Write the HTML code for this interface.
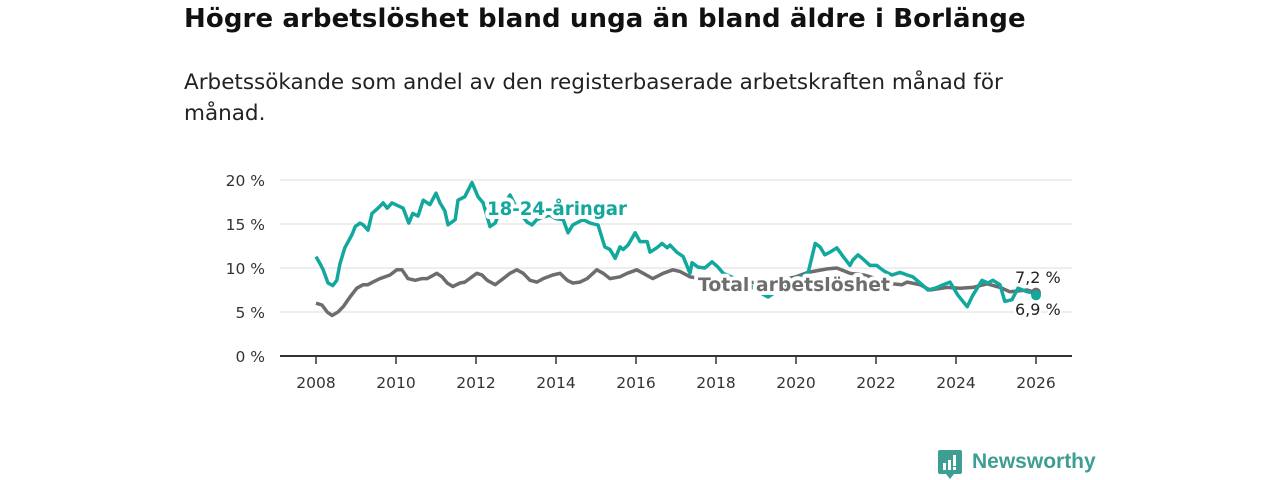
<!DOCTYPE html>
<html><head><meta charset="utf-8"><style>
body{margin:0;background:#fff;font-family:"DejaVu Sans","Liberation Sans",sans-serif;}
#wrap{position:relative;width:1280px;height:480px;overflow:hidden;}
h1{position:absolute;left:184px;top:4px;margin:0;font-size:26px;font-weight:bold;color:#111;white-space:nowrap;letter-spacing:0.1px;}
.sub{position:absolute;left:184px;top:67px;width:860px;margin:0;font-size:21.5px;line-height:31px;color:#222;}
</style></head><body>
<div id="wrap">
<h1>Högre arbetslöshet bland unga än bland äldre i Borlänge</h1>
<p class="sub">Arbetssökande som andel av den registerbaserade arbetskraften månad för månad.</p>
<svg id="chart" width="1280" height="480" style="position:absolute;left:0;top:0"></svg>
<div style="position:absolute;left:938px;top:450px;height:30px;">
<svg width="26" height="30" style="position:absolute;left:0;top:0"><path d="M0 2 Q0 0 2 0 H22 Q24 0 24 2 V22 Q24 24 22 24 H16 L12 29 L8 24 H2 Q0 24 0 22 Z" fill="#3f9e93"/><rect x="5" y="13" width="3" height="7" fill="#fff"/><rect x="10" y="10" width="3" height="10" fill="#fff"/><rect x="15" y="5" width="3" height="11" fill="#fff"/><rect x="15" y="17" width="3" height="3" fill="#fff"/></svg>
<span style="position:absolute;left:34px;top:0px;font-size:21px;font-weight:bold;color:#3f9e93;white-space:nowrap;font-family:'Liberation Sans',sans-serif;">Newsworthy</span>
</div>
</div>
<script>
const youthYears=[2008.0,2008.1,2008.18,2008.3,2008.42,2008.52,2008.6,2008.72,2008.9,2008.98,2009.1,2009.18,2009.3,2009.4,2009.55,2009.68,2009.78,2009.9,2010.18,2010.32,2010.42,2010.55,2010.68,2010.85,2011.0,2011.1,2011.22,2011.3,2011.48,2011.55,2011.72,2011.9,2012.05,2012.18,2012.35,2012.48,2012.6,2012.85,2013.05,2013.28,2013.4,2013.52,2013.68,2013.85,2014.0,2014.18,2014.3,2014.42,2014.68,2014.85,2015.05,2015.22,2015.35,2015.48,2015.6,2015.68,2015.8,2015.98,2016.1,2016.28,2016.35,2016.52,2016.65,2016.78,2016.85,2017.02,2017.18,2017.35,2017.4,2017.55,2017.72,2017.9,2018.05,2018.18,2018.48,2018.85,2019.1,2019.3,2019.6,2019.98,2020.3,2020.48,2020.6,2020.72,2020.85,2021.02,2021.18,2021.35,2021.42,2021.55,2021.68,2021.85,2022.02,2022.1,2022.22,2022.4,2022.6,2022.78,2022.92,2023.1,2023.3,2023.48,2023.68,2023.85,2024.05,2024.28,2024.42,2024.65,2024.8,2024.92,2025.1,2025.22,2025.4,2025.55,2025.78,2025.92,2026.0];
const youthValues=[11.3,10.5,9.8,8.3,8.0,8.6,10.5,12.3,13.8,14.7,15.1,14.9,14.3,16.2,16.8,17.4,16.8,17.4,16.8,15.1,16.2,15.9,17.7,17.2,18.5,17.4,16.5,14.9,15.5,17.7,18.1,19.7,18.1,17.4,14.7,15.1,16.5,18.3,16.5,15.2,14.9,15.5,15.8,16.0,15.6,15.5,14.0,14.9,15.5,15.1,14.9,12.4,12.1,11.1,12.4,12.1,12.6,14.0,13.0,13.0,11.8,12.3,12.8,12.3,12.6,11.8,11.3,9.4,10.6,10.1,10.0,10.7,10.1,9.4,8.8,8.0,7.2,6.7,7.6,8.6,9.4,12.8,12.4,11.5,11.8,12.3,11.3,10.3,10.9,11.5,11.0,10.3,10.3,10.0,9.6,9.2,9.5,9.2,9.0,8.3,7.5,7.7,8.1,8.4,6.9,5.6,6.9,8.6,8.3,8.6,8.1,6.2,6.4,7.7,7.3,7.2,6.9];
const totalYears=[2008.0,2008.15,2008.28,2008.4,2008.55,2008.68,2008.85,2009.02,2009.18,2009.3,2009.42,2009.6,2009.85,2010.02,2010.15,2010.3,2010.48,2010.65,2010.78,2011.02,2011.15,2011.28,2011.42,2011.6,2011.72,2011.9,2012.02,2012.15,2012.28,2012.48,2012.68,2012.85,2013.02,2013.18,2013.35,2013.52,2013.68,2013.92,2014.1,2014.28,2014.42,2014.6,2014.78,2015.02,2015.18,2015.35,2015.6,2015.78,2016.02,2016.18,2016.42,2016.68,2016.92,2017.1,2017.35,2017.6,2018.0,2018.5,2019.0,2019.5,2020.0,2020.3,2020.78,2021.02,2021.35,2021.7,2022.0,2022.4,2022.65,2022.78,2023.1,2023.35,2023.78,2024.1,2024.42,2024.78,2025.1,2025.35,2025.78,2026.0];
const totalValues=[6.0,5.8,5.0,4.6,5.0,5.6,6.7,7.7,8.1,8.1,8.4,8.8,9.2,9.8,9.8,8.8,8.6,8.8,8.8,9.4,9.0,8.3,7.9,8.3,8.4,9.0,9.4,9.2,8.6,8.1,8.8,9.4,9.8,9.4,8.6,8.4,8.8,9.2,9.4,8.6,8.3,8.4,8.8,9.8,9.4,8.8,9.0,9.4,9.8,9.4,8.8,9.4,9.8,9.6,9.0,8.8,8.8,8.6,8.3,8.5,9.0,9.5,9.9,10.0,9.4,9.2,8.8,8.2,8.1,8.4,8.1,7.5,7.8,7.7,7.8,8.2,7.8,7.3,7.5,7.2];
const yTicks=[0,5,10,15,20];
const yTickLabels=["0 %","5 %","10 %","15 %","20 %"];
const xTicks=[2008,2010,2012,2014,2016,2018,2020,2022,2024,2026];

const NS="http://www.w3.org/2000/svg";
const FONT='DejaVu Sans, Liberation Sans, sans-serif';
const svg=document.getElementById('chart');
const x=v=>316+(v-2008)*40;
const y=v=>356-v*8.8;
function mk(tag,attrs,parent){const e=document.createElementNS(NS,tag);for(const k in attrs)e.setAttribute(k,attrs[k]);(parent||svg).appendChild(e);return e;}

yTicks.forEach((t,i)=>{
  if(t>0){const g=mk('line',{x1:280,x2:1072,y1:y(t),y2:y(t),stroke:'#dcdcdc','stroke-width':1});
  
  }
  const l=mk('text',{x:265,y:y(t)+6,'text-anchor':'end','font-size':15.5,fill:'#333','font-family':FONT});
  l.textContent=yTickLabels[i];
  
  
});
const ax=mk('line',{x1:280,x2:1072,y1:356,y2:356,stroke:'#333','stroke-width':2});


xTicks.forEach(t=>{
  const tk=mk('line',{x1:x(t),x2:x(t),y1:356,y2:364,stroke:'#333','stroke-width':1.5});
  
  
  const l=mk('text',{x:x(t),y:388,'text-anchor':'middle','font-size':15.5,fill:'#333','font-family':FONT});
  l.textContent=t;
  
  
});
function path(xs,vs){return xs.map((t,i)=>(i?'L':'M')+x(t).toFixed(1)+' '+y(vs[i]).toFixed(1)).join(' ');}
const tl=mk('path',{d:path(totalYears,totalValues),fill:'none',stroke:'#6d6d6d','stroke-width':3.5,'stroke-linejoin':'round'});


const yl=mk('path',{d:path(youthYears,youthValues),fill:'none',stroke:'#13a89e','stroke-width':3.5,'stroke-linejoin':'round'});


const td=mk('circle',{cx:x(totalYears[totalYears.length-1]),cy:y(totalValues[totalValues.length-1]),r:5,fill:'#6d6d6d'});


const yd=mk('circle',{cx:x(youthYears[youthYears.length-1]),cy:y(youthValues[youthValues.length-1]),r:5,fill:'#13a89e'});


function lab(txt,xx,yy,col,sz,bold,name,len){
  const t=mk('text',{x:xx,y:yy,'font-size':sz,'font-weight':bold?'bold':'normal',fill:col,stroke:'#fff','stroke-width':bold?8:5,'paint-order':'stroke','stroke-linejoin':'round','font-family':FONT});
  if(len){t.setAttribute('textLength',len);t.setAttribute('lengthAdjust','spacingAndGlyphs');}
  t.textContent=txt;
  
  
}
lab('18-24-åringar',487,215,'#13a89e',19,true,'youth-series-label',140);
lab('Total arbetslöshet',698,291,'#6d6d6d',19,true,'total-series-label',192);
lab('7,2 %',1015,283,'#222',16,false,'total-end-value');
lab('6,9 %',1015,315,'#222',16,false,'youth-end-value');
</script>
</body></html>
